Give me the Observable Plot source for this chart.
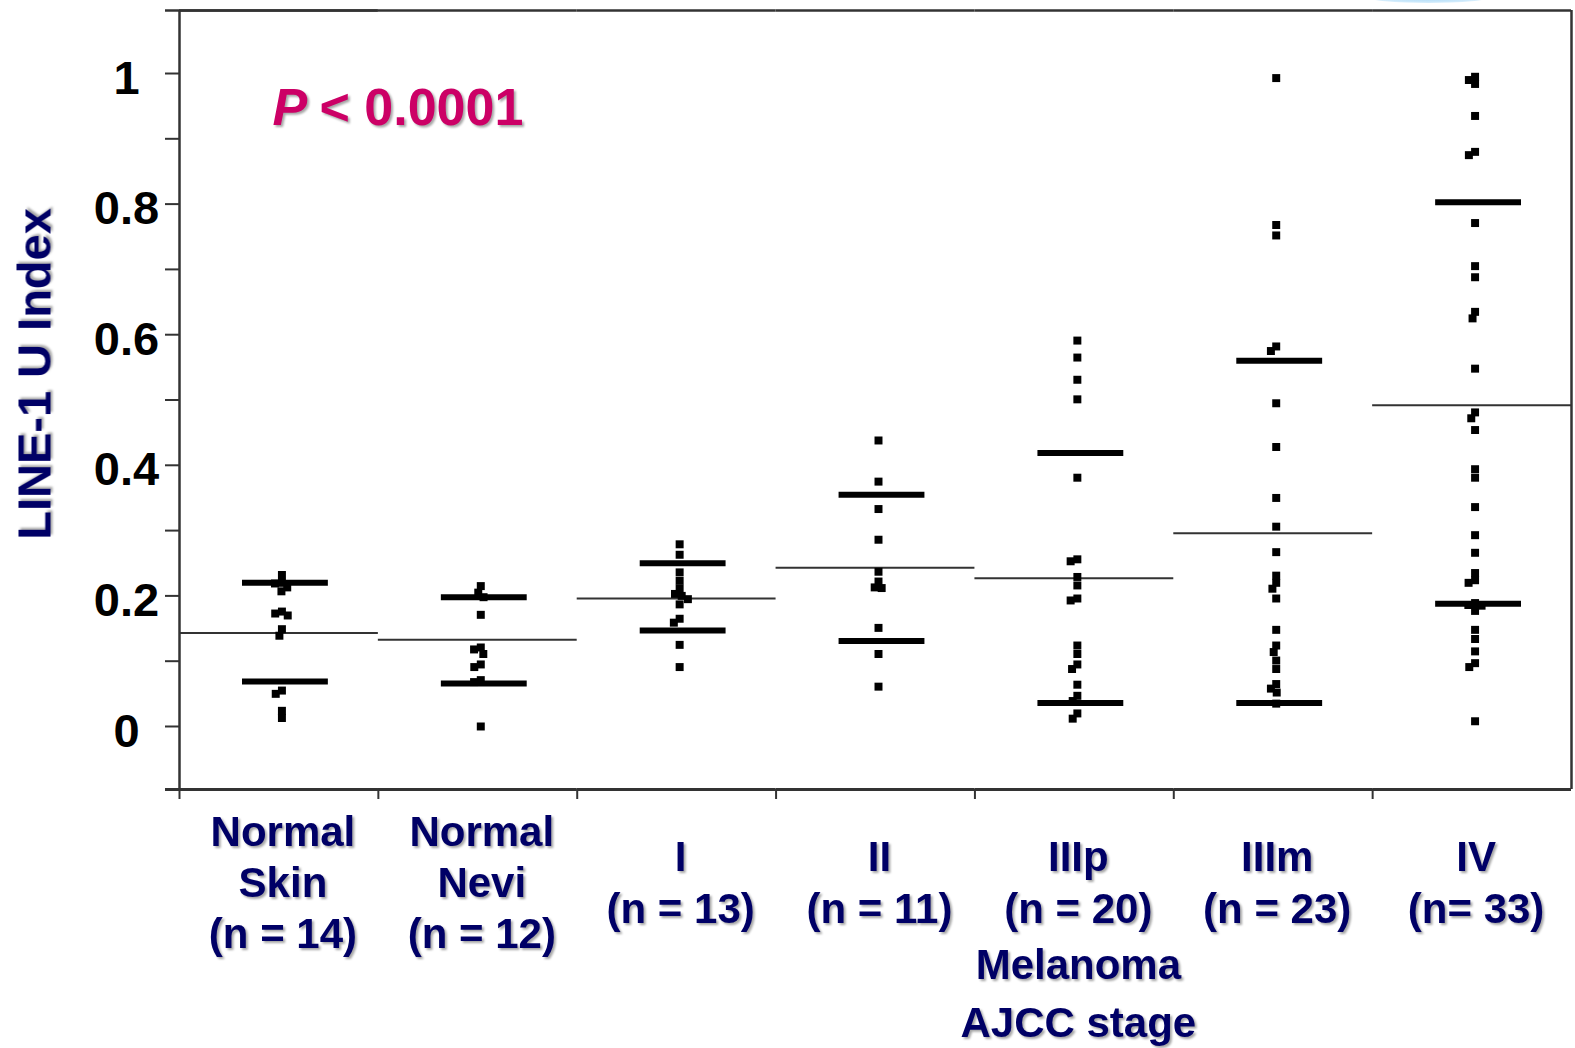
<!DOCTYPE html>
<html>
<head>
<meta charset="utf-8">
<script src="https://cdn.jsdelivr.net/npm/d3@7"></script>
<script src="https://cdn.jsdelivr.net/npm/@observablehq/plot@0.6"></script>
<style>
  html, body { margin: 0; padding: 0; background: #fff; }
  #wrap { position: relative; width: 1575px; height: 1048px; overflow: hidden; background: #fff; }
  #blob { position: absolute; left: 1367px; top: -9px; width: 123px; height: 12px; border-radius: 50%;
          background: radial-gradient(ellipse at center, #9fd4f5 0%, #cde9fb 60%, rgba(255,255,255,0) 100%); }
  svg g[aria-label="text"] text { filter: drop-shadow(2px 2px 1.2px rgba(0,0,0,0.35)); }
</style>
</head>
<body>
<div id="wrap"><div id="blob"></div></div>
<script>
// ---- data ----
const categories = ["Normal Skin", "Normal Nevi", "I", "II", "IIIp", "IIIm", "IV"];
const categoryLabels = [
  "Normal\nSkin\n(n = 14)",
  "Normal\nNevi\n(n = 12)",
  "I\n(n = 13)",
  "II\n(n = 11)",
  "IIIp\n(n = 20)",
  "IIIm\n(n = 23)",
  "IV\n(n= 33)"
];
const groupNote = "Melanoma\nAJCC stage";
const yTitle = "LINE-1 U Index";
const pPrefix = "P";
const pValue = "< 0.0001";

const normalSkin = [0.232, 0.220, 0.219, 0.213, 0.207, 0.176, 0.173, 0.170, 0.149, 0.139, 0.055, 0.050, 0.024, 0.013];
const normalNevi = [0.215, 0.205, 0.198, 0.171, 0.121, 0.118, 0.111, 0.095, 0.091, 0.071, 0.068, 0.000];
const stageI = [0.279, 0.263, 0.236, 0.223, 0.211, 0.203, 0.200, 0.195, 0.187, 0.165, 0.159, 0.125, 0.091];
const stageII = [0.438, 0.375, 0.333, 0.286, 0.237, 0.222, 0.213, 0.212, 0.151, 0.111, 0.061];
const stageIIIp = [0.591, 0.565, 0.531, 0.501, 0.381, 0.256, 0.253, 0.229, 0.216, 0.196, 0.193, 0.124, 0.111, 0.095, 0.088, 0.064, 0.047, 0.039, 0.020, 0.012];
const stageIIIm = [0.993, 0.768, 0.752, 0.582, 0.575, 0.495, 0.428, 0.350, 0.306, 0.267, 0.231, 0.220, 0.211, 0.196, 0.148, 0.124, 0.114, 0.101, 0.088, 0.065, 0.058, 0.052, 0.035];
const stageIV = [0.995, 0.990, 0.984, 0.935, 0.880, 0.875, 0.771, 0.705, 0.688, 0.635, 0.625, 0.548, 0.481, 0.472, 0.454, 0.394, 0.381, 0.336, 0.293, 0.266, 0.235, 0.224, 0.220, 0.189, 0.186, 0.185, 0.177, 0.148, 0.134, 0.115, 0.097, 0.091, 0.008];

const means = [0.143, 0.133, 0.196, 0.243, 0.227, 0.296, 0.492];
const upperQuartiles = [0.220, 0.198, 0.250, 0.355, 0.419, 0.560, 0.803];
const lowerQuartiles = [0.069, 0.066, 0.147, 0.131, 0.036, 0.036, 0.188];

const yTicks = [0, 0.1, 0.2, 0.3, 0.4, 0.5, 0.6, 0.7, 0.8, 0.9, 1.0];
const yTickLabels = [0, 0.2, 0.4, 0.6, 0.8, 1.0];
const yDomain = [-0.0965, 1.0965];

// ---- tables built from the arrays ----
const groups = [normalSkin, normalNevi, stageI, stageII, stageIIIp, stageIIIm, stageIV];
const points = categories.flatMap((c, i) => groups[i].map(v => ({group: c, value: v})));
const meanRows = categories.map((c, i) => ({group: c, value: means[i]}));
const quartileRows = categories.flatMap((c, i) => [
  {group: c, value: upperQuartiles[i]},
  {group: c, value: lowerQuartiles[i]}
]);
const labelRows = categories.map((c, i) => ({group: c, label: categoryLabels[i]}));
const first = categories[0];
const last = categories[categories.length - 1];
const navy = "#000066";
const frameColor = "#333";

const chart = Plot.plot({
  width: 1575,
  height: 1048,
  marginTop: 10,
  marginBottom: 259,
  marginLeft: 179,
  marginRight: 4,
  style: {fontFamily: "Arial, 'Liberation Sans', sans-serif", background: "white", overflow: "visible"},
  fx: {domain: categories, padding: 0, round: false, axis: null},
  x: {domain: [0, 1], axis: null},
  y: {domain: yDomain, axis: null},
  marks: [
    // frame: top and bottom lines across all groups
    Plot.ruleY(categories, {fx: d => d, y: () => yDomain[1], stroke: frameColor, strokeWidth: 2.5}),
    Plot.ruleY(categories, {fx: d => d, y: () => yDomain[0], stroke: frameColor, strokeWidth: 3}),
    Plot.ruleY([first], {fx: d => d, y: () => yDomain[1], insetLeft: -14, stroke: frameColor, strokeWidth: 2.5}),
    Plot.ruleY([first], {fx: d => d, y: () => yDomain[0], insetLeft: -14, stroke: frameColor, strokeWidth: 3}),
    Plot.ruleX([first], {fx: d => d, x: () => 0, stroke: frameColor, strokeWidth: 2.5}),
    Plot.ruleX([last], {fx: d => d, x: () => 1, stroke: frameColor, strokeWidth: 2.5}),
    // boundary ticks on the bottom axis
    Plot.axisX({ticks: [0], tickSize: 10, tickFormat: () => "", label: null, stroke: frameColor, strokeWidth: 2}),
    // y axis ticks
    Plot.axisY({
      ticks: yTicks, tickSize: 14, tickFormat: () => "", label: null,
      stroke: frameColor, strokeWidth: 2
    }),
    // y axis tick labels
    Plot.axisY({
      ticks: yTickLabels, tickSize: 0, tickPadding: 53, textAnchor: "middle", dy: 5,
      tickFormat: d => String(+d.toFixed(1)),
      fontSize: 47, fontWeight: "bold", fill: "black", label: null
    }),
    // mean lines
    Plot.ruleY(meanRows, {fx: "group", y: "value", stroke: "#333", strokeWidth: 2}),
    // quartile bars
    Plot.ruleY(quartileRows, {fx: "group", y: "value", stroke: "black", strokeWidth: 6, insetLeft: 63, insetRight: 50}),
    // points
    Plot.dot(points, Plot.dodgeX({anchor: "middle", padding: -2}, {
      fx: "group", y: "value", r: 4.5, symbol: "square", fill: "black", stroke: "none", dx: 3
    })),
    // category labels
    Plot.text(labelRows, {
      fx: "group", text: "label", frameAnchor: "bottom", lineAnchor: "middle",
      dx: 4, dy: 91, lineHeight: 1.22, fontSize: 42, fontWeight: "bold", fill: navy
    }),
    Plot.text([groupNote], {
      fx: () => categories[4], text: d => d, frameAnchor: "bottom", lineAnchor: "middle",
      dx: 4, dy: 200, lineHeight: 1.38, fontSize: 42, fontWeight: "bold", fill: navy
    }),
    // y title
    Plot.text([yTitle], {
      fx: () => first, text: d => d, frameAnchor: "left", textAnchor: "middle", rotate: -90,
      dx: -144, dy: -26, fontSize: 47, fontWeight: "bold", fill: navy
    }),
    // P value annotation
    Plot.text([pPrefix], {
      fx: () => first, text: d => d, frameAnchor: "top-left", lineAnchor: "top",
      dx: 93, dy: 78, fontSize: 52, fontWeight: "bold", fontStyle: "italic", fill: "#CC0066"
    }),
    Plot.text([pValue], {
      fx: () => first, text: d => d, frameAnchor: "top-left", lineAnchor: "top",
      dx: 140, dy: 78, fontSize: 52, fontWeight: "bold", fill: "#CC0066"
    })
  ]
});
document.getElementById("wrap").appendChild(chart);
</script>
</body>
</html>
